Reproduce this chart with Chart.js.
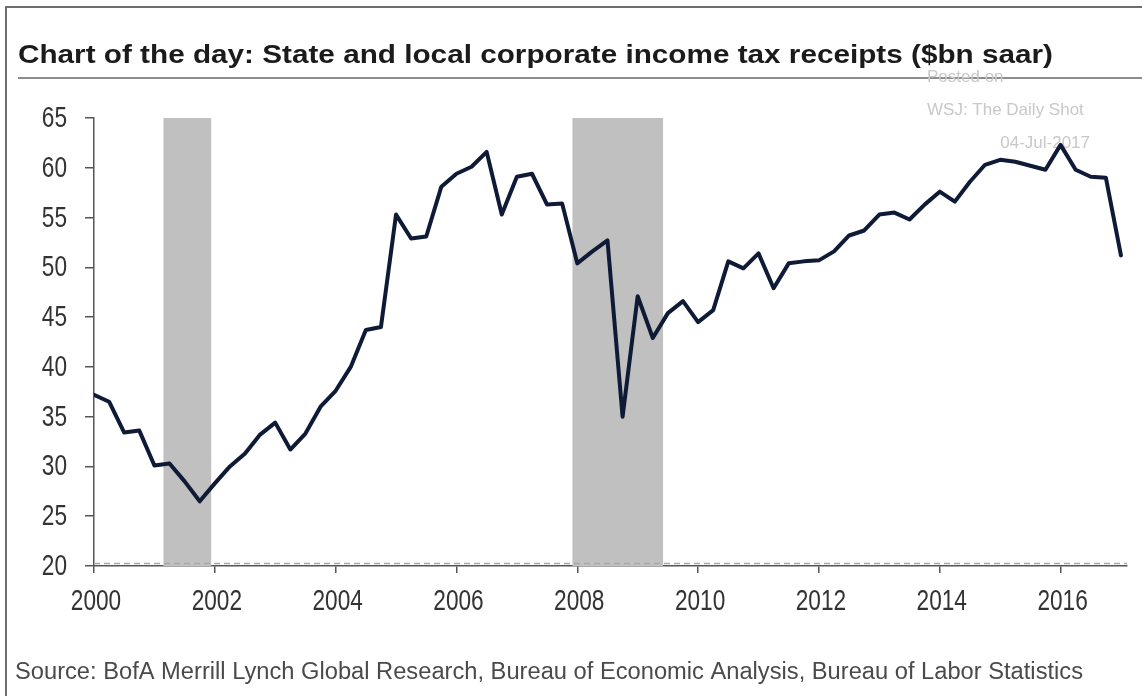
<!DOCTYPE html>
<html>
<head>
<meta charset="utf-8">
<script src="https://cdn.jsdelivr.net/npm/chart.js@4/dist/chart.umd.min.js"></script>
<style>
  html, body { margin: 0; padding: 0; background: #fff; }
  #wrap { width: 1142px; height: 696px; position: relative; }
</style>
</head>
<body>
<div id="wrap"><canvas id="chart"></canvas></div>
<script>
'use strict';

// quarterly receipts, $bn saar, 2000 Q1 .. 2017 Q1
const firstYear = 2000;
const receipts = [
  37.2, 36.5, 33.4, 33.6, 30.1, 30.3, 28.5, 26.5,
  28.3, 30.0, 31.3, 33.2, 34.4, 31.7, 33.3, 36.0,
  37.6, 40.0, 43.7, 44.0, 55.3, 52.9, 53.1, 58.1,
  59.4, 60.1, 61.6, 55.3, 59.1, 59.4, 56.3, 56.4,
  50.4, 51.6, 52.7, 35.0, 47.1, 42.9, 45.4, 46.6,
  44.5, 45.7, 50.6, 49.9, 51.4, 47.9, 50.4, 50.6,
  50.7, 51.6, 53.2, 53.7, 55.3, 55.5, 54.8, 56.3,
  57.6, 56.6, 58.6, 60.3, 60.8, 60.6, 60.2, 59.8,
  62.3, 59.8, 59.1, 59.0, 51.2
];

// recessions (decimal years)
const recessionStart = [2001.15, 2007.92];
const recessionEnd = [2001.94, 2009.42];

const xTicks = [2000, 2002, 2004, 2006, 2008, 2010, 2012, 2014, 2016];
const yTicks = [20, 25, 30, 35, 40, 45, 50, 55, 60, 65];

const titleText = 'Chart of the day: State and local corporate income tax receipts ($bn saar)';
const sourceText = 'Source: BofA Merrill Lynch Global Research, Bureau of Economic Analysis, Bureau of Labor Statistics';
const stampLines = ['Posted on', 'WSJ: The Daily Shot', '04-Jul-2017'];

const points = receipts.map((v, i) => ({ x: firstYear + i / 4, y: v }));

const sans = '"Liberation Sans", Arial, sans-serif';

// text squeezed or stretched sideways so it spans a given width
function fitText(ctx, text, x, y, width) {
  const w = ctx.measureText(text).width;
  ctx.save();
  ctx.translate(x, y);
  ctx.scale(width / w, 1);
  ctx.textAlign = 'left';
  ctx.fillText(text, 0, 0);
  ctx.restore();
}

// narrow tick digits
function narrowText(ctx, text, x, y, align) {
  ctx.save();
  ctx.translate(x, y);
  ctx.scale(0.78, 1);
  ctx.textAlign = align;
  ctx.fillText(text, 0, 0);
  ctx.restore();
}

const decor = {
  id: 'decor',
  beforeDraw(chart) {
    const ctx = chart.ctx;
    ctx.save();
    // frame
    ctx.strokeStyle = '#6e6e6e';
    ctx.lineWidth = 2;
    ctx.beginPath();
    ctx.moveTo(6, 696);
    ctx.lineTo(6, 7);
    ctx.lineTo(1142, 7);
    ctx.stroke();

    // title and rule
    ctx.fillStyle = '#1b1b1b';
    ctx.font = 'bold 26px ' + sans;
    ctx.textBaseline = 'middle';
    fitText(ctx, titleText, 18, 56, 1035);
    ctx.strokeStyle = '#8c8c8c';
    ctx.beginPath();
    ctx.moveTo(18, 78);
    ctx.lineTo(1142, 78);
    ctx.stroke();

    // stamp
    ctx.fillStyle = '#c8c8c8';
    ctx.font = '17px ' + sans;
    ctx.textAlign = 'left';
    ctx.fillText(stampLines[0], 927, 77);
    ctx.fillText(stampLines[1], 927, 110);
    ctx.textAlign = 'right';
    ctx.fillText(stampLines[2], 1090, 143);

    // source
    ctx.fillStyle = '#4a4a4a';
    ctx.font = '23px ' + sans;
    fitText(ctx, sourceText, 15, 673, 1068);
    ctx.restore();
  },
  beforeDatasetsDraw(chart) {
    const { ctx, scales: { x, y } } = chart;
    ctx.save();
    ctx.fillStyle = '#c0c0c0';
    const top = y.getPixelForValue(65);
    const bottom = y.getPixelForValue(20);
    recessionStart.forEach((s, i) => {
      const x0 = x.getPixelForValue(s);
      const x1 = x.getPixelForValue(recessionEnd[i]);
      ctx.fillRect(x0, top, x1 - x0, bottom - top);
    });
    // dashed reference just above the base line
    ctx.strokeStyle = '#a8a8a8';
    ctx.lineWidth = 1.5;
    ctx.setLineDash([6, 4]);
    ctx.beginPath();
    ctx.moveTo(x.left, bottom - 2.5);
    ctx.lineTo(x.right, bottom - 2.5);
    ctx.stroke();
    ctx.restore();
  },
  afterDraw(chart) {
    const { ctx, scales: { x, y } } = chart;
    ctx.save();
    ctx.fillStyle = '#333';
    ctx.font = '29px ' + sans;
    ctx.textBaseline = 'middle';
    y.ticks.forEach(t => {
      narrowText(ctx, String(t.value), 67, y.getPixelForValue(t.value) + 1, 'right');
    });
    x.ticks.forEach(t => {
      narrowText(ctx, String(t.value), x.getPixelForValue(t.value) + 2, 602, 'center');
    });
    ctx.restore();
  }
};

new Chart(document.getElementById('chart'), {
  type: 'line',
  data: {
    datasets: [{
      data: points,
      borderColor: '#0f1a36',
      borderWidth: 4,
      pointRadius: 0,
      tension: 0,
      borderJoinStyle: 'round',
      borderCapStyle: 'round'
    }]
  },
  options: {
    responsive: true,
    maintainAspectRatio: false,
    devicePixelRatio: 1,
    animation: false,
    layout: { padding: { left: 0, right: 15, top: 118, bottom: 70 } },
    plugins: { legend: { display: false }, tooltip: { enabled: false } },
    scales: {
      x: {
        type: 'linear',
        min: 2000,
        max: 2017.1,
        afterBuildTicks: (scale) => { scale.ticks = xTicks.map(v => ({ value: v })); },
        afterFit: (scale) => { scale.height = 60; },
        ticks: { color: 'rgba(0,0,0,0)', maxRotation: 0, autoSkip: false },
        grid: { display: true, drawOnChartArea: false, drawTicks: true, tickLength: 7, color: '#555', lineWidth: 1.5 },
        border: { display: true, color: '#555', width: 1.5 }
      },
      y: {
        min: 20,
        max: 65,
        afterBuildTicks: (scale) => { scale.ticks = yTicks.map(v => ({ value: v })); },
        afterFit: (scale) => { scale.width = 94; },
        ticks: { color: 'rgba(0,0,0,0)' },
        grid: { display: true, drawOnChartArea: false, drawTicks: true, tickLength: 9, color: '#555', lineWidth: 1.5 },
        border: { display: true, color: '#555', width: 1.5 }
      }
    }
  },
  plugins: [decor]
});
</script>
</body>
</html>
